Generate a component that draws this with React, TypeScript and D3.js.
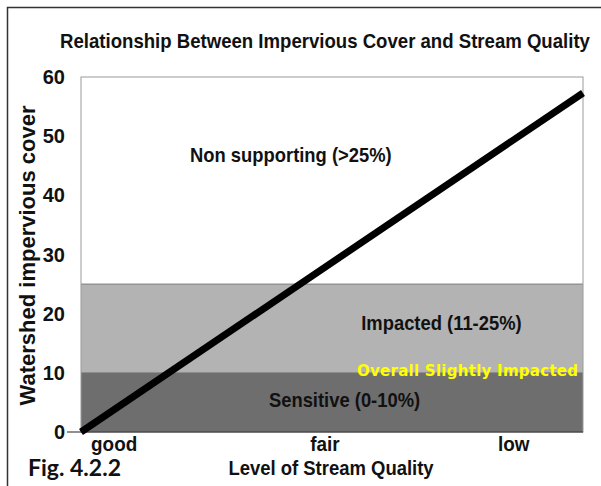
import * as d3 from "d3";

// y ticks (percent impervious cover)
const yTicks = [0, 10, 20, 30, 40, 50, 60];

// stream quality categories and where they sit along the x span (0..1)
const qualityLabels = ["good", "fair", "low"];
const qualityPos = [0.066, 0.486, 0.862];

// quality bands
const bandFrom = [0, 10, 25];
const bandTo = [10, 25, 60];
const bandNames = ["Sensitive (0-10%)", "Impacted (11-25%)", "Non supporting (>25%)"];
const bandFill = ["#6e6e6e", "#b3b3b3", "#ffffff"];

// trend line: relative position along x, impervious cover
const lineX = [0, 1];
const lineY = [0, 57.3];

export default function App() {
  const width = 601;
  const height = 486;
  const plot = { left: 81, right: 583, top: 77, bottom: 432 };
  const x = d3.scaleLinear().domain([0, 1]).range([plot.left, plot.right]);
  const y = d3.scaleLinear().domain([0, 60]).range([plot.bottom, plot.top]);
  const line = d3
    .line<number>()
    .x((_, i) => x(lineX[i]))
    .y((d) => y(d));
  const font = "'Liberation Sans', Arial, sans-serif";

  // label anchors for each band [x, y] in data terms
  const labelAt = [
    [0.525, 4.2],
    [0.718, 17.3],
    [0.418, 45.6],
  ];

  return (
    <svg
      width={width}
      height={height}
      style={{ position: "absolute", left: 0, top: 0, background: "#fff" }}
      fontFamily={font}
    >
      <rect x={7.5} y={7.5} width={width} height={height} fill="none" stroke="#333" strokeWidth={1.5} />
      <text
        transform="translate(325, 48) scale(0.93, 1)"
        textAnchor="middle"
        fontSize={20}
        fontWeight="bold"
        fill="#111"
      >
        Relationship Between Impervious Cover and Stream Quality
      </text>

      {bandFrom.map((from, i) => (
        <rect
          key={bandNames[i]}
          x={plot.left}
          y={y(bandTo[i])}
          width={plot.right - plot.left}
          height={y(from) - y(bandTo[i])}
          fill={bandFill[i]}
        />
      ))}
      {bandFrom.slice(1).map((from) => (
        <line key={from} x1={plot.left} x2={plot.right} y1={y(from)} y2={y(from)} stroke="#777" strokeWidth={1} />
      ))}
      <rect
        x={plot.left}
        y={plot.top}
        width={plot.right - plot.left}
        height={plot.bottom - plot.top}
        fill="none"
        stroke="#9a9a9a"
        strokeWidth={1}
      />
      <line x1={67} x2={plot.right} y1={plot.bottom} y2={plot.bottom} stroke="#222" strokeWidth={1.2} />

      {bandNames.map((name, i) => (
        <text
          key={name}
          transform={`translate(${x(labelAt[i][0])}, ${y(labelAt[i][1])}) scale(0.92, 1)`}
          textAnchor="middle"
          fontSize={20}
          fontWeight="bold"
          fill="#111"
        >
          {name}
        </text>
      ))}
      <text
        x={578}
        y={376}
        textAnchor="end"
        fontSize={15}
        fontWeight="bold"
        fill="#ffff00"
        fontFamily="'Comic Sans MS', 'DejaVu Sans', sans-serif"
        textLength={221}
      >
        Overall Slightly Impacted
      </text>

      <path d={line(lineY) ?? ""} fill="none" stroke="#000" strokeWidth={7} />

      {yTicks.map((t) => (
        <text key={t} x={65} y={y(t) + 7} textAnchor="end" fontSize={20} fontWeight="bold" fill="#111">
          {t}
        </text>
      ))}
      <text
        transform={`translate(35, ${(plot.top + plot.bottom) / 2 + 1}) rotate(-90)`}
        textAnchor="middle"
        fontSize={22}
        fontWeight="bold"
        fill="#111"
      >
        Watershed impervious cover
      </text>

      {qualityLabels.map((label, i) => (
        <text
          key={label}
          transform={`translate(${x(qualityPos[i])}, 451) scale(0.9, 1)`}
          textAnchor="middle"
          fontSize={21}
          fontWeight="bold"
          fill="#111"
        >
          {label}
        </text>
      ))}
      <text transform="translate(331, 475) scale(0.88, 1)" textAnchor="middle" fontSize={21} fontWeight="bold" fill="#111">
        Level of Stream Quality
      </text>
      <text x={28} y={476} fontSize={23} fontWeight="bold" fill="#111" fontFamily="Lato, 'Open Sans', sans-serif">
        Fig. 4.2.2
      </text>
    </svg>
  );
}
